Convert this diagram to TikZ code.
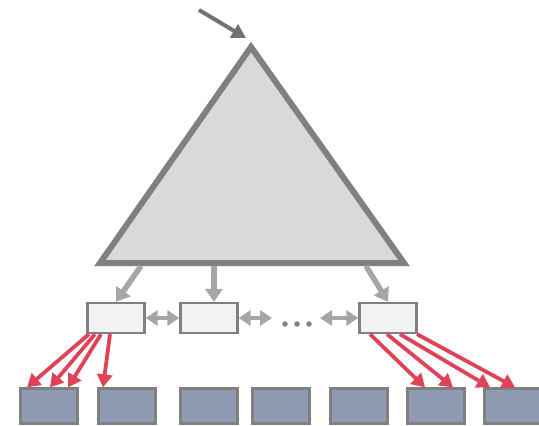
\documentclass[tikz,border=0pt]{standalone}
\usetikzlibrary{arrows.meta}
\definecolor{trifill}{HTML}{D9D9D9}
\definecolor{tridraw}{HTML}{808080}
\definecolor{midfill}{HTML}{F2F2F2}
\definecolor{botfill}{HTML}{8E9BB2}
\definecolor{redarr}{HTML}{E04358}
\definecolor{grayarr}{HTML}{A6A6A6}
\definecolor{toparr}{HTML}{727272}
\begin{document}
\begin{tikzpicture}[x=1pt,y=-1pt,
  midbox/.style={draw=tridraw,fill=midfill,line width=2.3pt,minimum width=57pt,minimum height=30pt,inner sep=0pt},
  botbox/.style={draw=tridraw,fill=botfill,line width=2.3pt,minimum width=57pt,minimum height=35pt,inner sep=0pt},
  redar/.style={draw=redarr,line width=3.8pt,-{Triangle[length=13pt,width=15pt]}},
  grayar/.style={draw=grayarr,line width=5.5pt,-{Triangle[length=13pt,width=17pt]}},
  dblar/.style={draw=grayarr,line width=4pt,{Triangle[length=12pt,width=15pt]}-{Triangle[length=12pt,width=15pt]}},
  dot/.style={circle,fill=tridraw,inner sep=0pt,minimum size=5.5pt}]
\useasboundingbox (0,0) rectangle (539,426);
\clip (0,0) rectangle (539,426);
% triangle
\coordinate (apex) at (251,47);
\coordinate (bl) at (100,263);
\coordinate (br) at (404,263);
\draw[draw=tridraw,fill=trifill,line width=6pt,line join=miter] (apex) -- (br) -- (bl) -- cycle;
% top arrow
\coordinate (tstart) at (199,10);
\coordinate (tend) at (246,38);
\draw[draw=toparr,line width=4pt,-{Triangle[length=14pt,width=15pt]}] (tstart) -- (tend);
% middle boxes
\node[midbox] (m1) at (116,318) {};
\node[midbox] (m2) at (209,318) {};
\node[midbox] (m3) at (388,318) {};
% base points
\coordinate (s1) at (141,266);
\coordinate (s2) at (214,266);
\coordinate (s3) at (366,266);
\draw[grayar] (s1) -- (m1.north);
\draw[grayar] (s2) -- (m2.north -| s2);
\draw[grayar] (s3) -- (m3.north);
% double arrows
\coordinate (d2e) at (272,318);
\coordinate (d3s) at (320,318);
\draw[dblar] (m1.east) -- (m2.west);
\draw[dblar] (m2.east) -- (d2e);
\draw[dblar] (d3s) -- (m3.west);
\node[dot] (dt1) at (285,324) {};
\node[dot] (dt2) at (297,324) {};
\node[dot] (dt3) at (309,324) {};
% bottom boxes
\node[botbox] (b1) at (49,406) {};
\node[botbox] (b2) at (127,406) {};
\node[botbox] (b3) at (209,406) {};
\node[botbox] (b4) at (281,406) {};
\node[botbox] (b5) at (359,406) {};
\node[botbox] (b6) at (436,406) {};
\node[botbox] (b7) at (513,406) {};
% red arrows from m1
\draw[redar] ([xshift=-27pt]m1.south) -- ([xshift=-22pt]b1.north);
\draw[redar] ([xshift=-21pt]m1.south) -- ([xshift=1pt]b1.north);
\draw[redar] ([xshift=-15pt]m1.south) -- ([xshift=19pt]b1.north);
\draw[redar] ([xshift=-6pt]m1.south) -- ([xshift=-24pt]b2.north);
% red arrows from m3
\draw[redar] ([xshift=-18pt]m3.south) -- ([xshift=-11pt]b6.north);
\draw[redar] ([xshift=-1pt]m3.south) -- ([xshift=17pt]b6.north);
\draw[redar] ([xshift=12pt]m3.south) -- ([xshift=-23pt]b7.north);
\draw[redar] ([xshift=29pt]m3.south) -- ([xshift=2pt]b7.north);
\end{tikzpicture}
\end{document}
